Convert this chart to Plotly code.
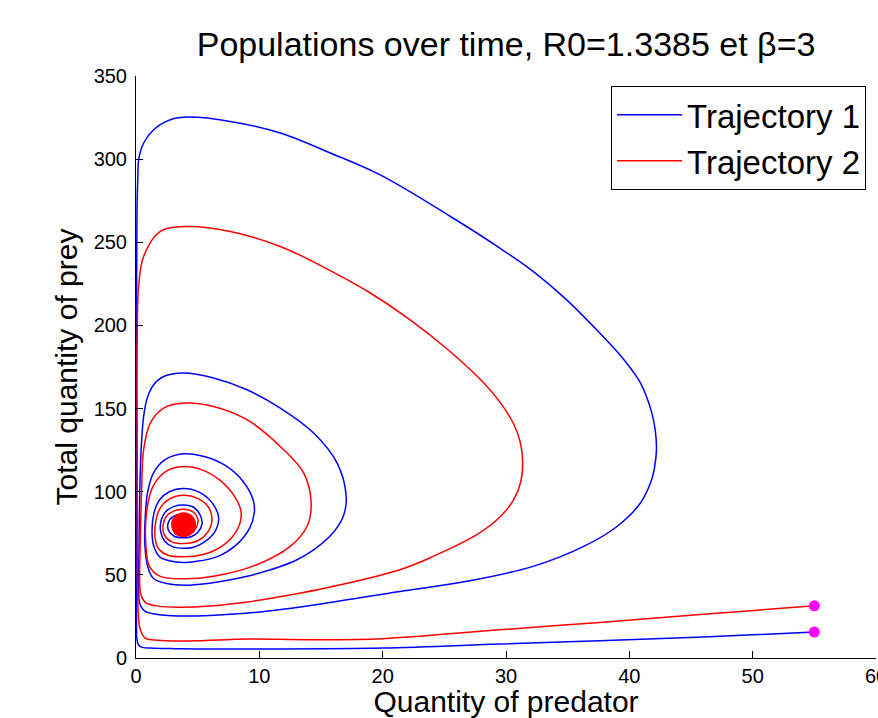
import plotly.graph_objects as go

# ---- Data (predator X, prey Y) ----
traj1_x = [55.0, 46.0, 37.6, 29.5, 20.0, 10.0, 5.0, 3.2, 1.5, 0.5, 0.2, 0.08, 0.04, 0.03, 0.04, 0.08, 0.15,
           0.21, 0.62, 1.43, 2.78, 4.26, 7.64, 11.7, 15.75, 19.8, 25.5, 29.5, 32.2, 34.9, 37.6, 39.5, 40.9,
           41.8, 42.1, 42.2, 42.05, 41.8, 40.9, 39.0, 36.3, 32.2, 26.8, 21.4, 15.0, 9.8, 6.0, 3.5, 1.5, 0.75, 0.4, 0.25,
           0.22, 0.25, 0.32, 0.45, 0.62, 0.9, 1.43, 2.24, 3.86, 6.29, 9.0, 11.7, 14.4, 16.3, 17.04, 16.8,
           15.7, 13.05, 9.0, 6.5, 4.3, 2.5, 1.4, 0.95, 0.72, 0.75, 0.95, 1.4, 2.3, 3.86, 5.6, 7.3, 8.7, 9.5,
           9.59, 9.2, 8.2, 6.6, 4.8, 3.86, 2.8, 1.9, 1.45, 1.3, 1.45, 1.9, 2.7, 3.86, 5.2, 6.2, 6.7, 6.4,
           5.5, 4.6, 3.86, 3.0, 2.35, 2.0, 2.05, 2.4, 3.1, 3.86, 4.7, 5.2, 5.35, 5.0, 4.4, 3.86, 3.1, 2.65,
           2.6, 3.0, 3.86, 4.5, 4.3, 3.86]
traj1_y = [15.6, 12.6, 10.4, 8.4, 6.0, 5.4, 5.4, 5.6, 5.9, 6.4, 8.0, 11.0, 20.0, 100.0, 200.0, 270.0, 290.0,
           299.6, 309.7, 317.7, 323.7, 325.3, 322.7, 315.7, 303.7, 290.5, 265.5, 246.5, 232.5, 215.5, 195.4,
           180.0, 165.4, 148.0, 137.0, 125.3, 115.0, 107.0, 93.2, 79.1, 67.1, 55.1, 46.1, 40.0, 32.5, 27.5, 25.6, 25.3,
           26.5, 28.0, 31.0, 35.0, 45.0, 70.0, 105.0, 130.0, 145.3, 156.0, 164.3, 169.3, 171.4, 168.4, 161.3,
           150.3, 135.3, 117.3, 97.2, 85.1, 73.1, 59.1, 49.1, 45.5, 43.8, 44.8, 48.0, 55.0, 68.0, 85.0, 100.0,
           111.0, 119.0, 122.8, 121.0, 115.5, 106.0, 95.0, 87.2, 78.0, 68.5, 61.0, 58.0, 57.5, 58.3, 61.0,
           67.0, 76.0, 87.0, 95.0, 100.0, 102.0, 99.5, 93.0, 84.5, 76.0, 69.5, 66.5, 66.0, 66.8, 70.0, 76.0,
           83.0, 88.0, 91.2, 92.0, 90.5, 86.0, 80.5, 75.5, 72.8, 72.3, 73.2, 76.5, 81.0, 85.0, 86.0, 83.0,
           79.0, 78.5]

traj2_x = [55.0, 46.0, 37.6, 29.5, 20.0, 14.0, 9.0, 5.0, 3.0, 1.5, 0.75, 0.35, 0.2, 0.12, 0.1, 0.1, 0.21,
           0.62, 1.97, 4.13, 7.64, 11.7, 15.75, 19.0, 22.2, 25.3, 28.2, 29.6, 30.6, 31.15, 31.35, 31.2, 30.6,
           29.4, 27.6, 24.1, 21.4, 15.0, 11.0, 8.86, 6.0, 3.5, 1.8, 0.75, 0.4, 0.3, 0.35, 0.45, 0.62, 1.16,
           2.24, 3.86, 6.29, 9.0, 11.7, 13.6, 14.2, 13.86, 12.5, 9.8, 6.29, 3.86, 1.97, 1.1, 0.8, 0.9, 1.43,
           2.5, 3.86, 5.3, 6.8, 8.0, 8.53, 8.2, 7.2, 5.6, 3.86, 2.6, 1.85, 1.55, 1.6, 1.95, 2.7, 3.86, 5.0,
           5.9, 6.16, 5.8, 5.0, 3.86, 2.9, 2.3, 2.2, 2.5, 3.1, 3.86, 4.6, 5.0, 4.9, 4.4, 3.86, 3.2, 3.0, 3.86]
traj2_y = [31.4, 26.3, 21.4, 17.0, 11.6, 11.0, 11.4, 10.3, 10.2, 10.8, 12.0, 17.0, 25.0, 50.0, 120.0, 195.0,
           223.5, 241.5, 256.5, 259.5, 256.5, 247.5, 233.0, 219.5, 203.5, 185.4, 165.4, 153.0, 141.0, 130.0,
           118.0, 106.0, 95.0, 84.0, 74.0, 61.1, 53.1, 41.5, 36.0, 33.5, 31.2, 30.5, 31.2, 33.5, 38.0, 45.0,
           70.0, 100.0, 125.3, 141.3, 150.3, 153.3, 151.3, 143.3, 127.2, 111.2, 93.2, 79.1, 67.1, 56.1, 49.1,
           47.6, 49.1, 55.0, 68.0, 90.0, 104.0, 112.5, 115.2, 113.3, 107.0, 97.0, 87.2, 77.0, 68.5, 62.5,
           60.9, 61.8, 65.5, 72.0, 82.0, 90.0, 95.5, 97.8, 96.0, 90.5, 83.0, 75.5, 70.5, 68.8, 69.8, 74.0,
           80.0, 85.5, 88.5, 89.5, 88.0, 84.0, 78.5, 74.5, 73.5, 74.8, 79.0, 80.2]

start_x = [55.0, 55.0]
start_y = [15.6, 31.4]
equilibrium_x = [3.86]
equilibrium_y = [80.2]

x_ticks = [0, 10, 20, 30, 40, 50, 60]
y_ticks = [0, 50, 100, 150, 200, 250, 300, 350]

FONT = "Liberation Sans, Arial, Helvetica, sans-serif"

fig = go.Figure()
fig.add_trace(go.Scatter(x=traj1_x, y=traj1_y, mode="lines", name="Trajectory 1",
                         line=dict(color="#0000FF", width=1.5, shape="spline", smoothing=1.0)))
fig.add_trace(go.Scatter(x=traj2_x, y=traj2_y, mode="lines", name="Trajectory 2",
                         line=dict(color="#FF0000", width=1.5, shape="spline", smoothing=1.0)))
fig.add_trace(go.Scatter(x=start_x, y=start_y, mode="markers", showlegend=False,
                         marker=dict(color="#FF00FF", size=11, symbol="circle")))
fig.add_trace(go.Scatter(x=equilibrium_x, y=equilibrium_y, mode="markers", showlegend=False,
                         marker=dict(color="#FF0000", size=25, symbol="circle")))

fig.update_layout(
    width=878, height=718,
    margin=dict(l=136, r=2, t=76, b=60, autoexpand=False),
    paper_bgcolor="white", plot_bgcolor="white",
    font=dict(family=FONT, color="black"),
    title=dict(text="Populations over time, R0=1.3385 et β=3", x=0.5764, xanchor="center",
               y=1 - 44 / 718, yanchor="middle", font=dict(size=34, family=FONT, color="black")),
    legend=dict(x=0.9865, y=0.983, xanchor="right", yanchor="top", bgcolor="white",
                bordercolor="black", borderwidth=1, font=dict(size=33, family=FONT, color="black"),
                itemwidth=65, tracegroupgap=0),
    showlegend=True,
)
fig.update_xaxes(range=[0, 60], tickvals=x_ticks, ticks="inside", ticklen=7, tickcolor="black",
                 showline=True, linecolor="black", linewidth=1, showgrid=False, zeroline=False,
                 ticklabeloverflow="allow", automargin=False,
                 tickfont=dict(size=20, family=FONT, color="black"),
                 title=dict(text="Quantity of predator", font=dict(size=30, family=FONT, color="black"),
                            standoff=15))
fig.update_yaxes(range=[0, 350], tickvals=y_ticks, ticks="inside", ticklen=7, tickcolor="black",
                 showline=True, linecolor="black", linewidth=1, showgrid=False, zeroline=False,
                 ticklabelstandoff=4, automargin=False,
                 tickfont=dict(size=20, family=FONT, color="black"),
                 title=dict(text="Total quantity of prey", font=dict(size=30, family=FONT, color="black"),
                            standoff=7))

fig.write_html("out.html")
